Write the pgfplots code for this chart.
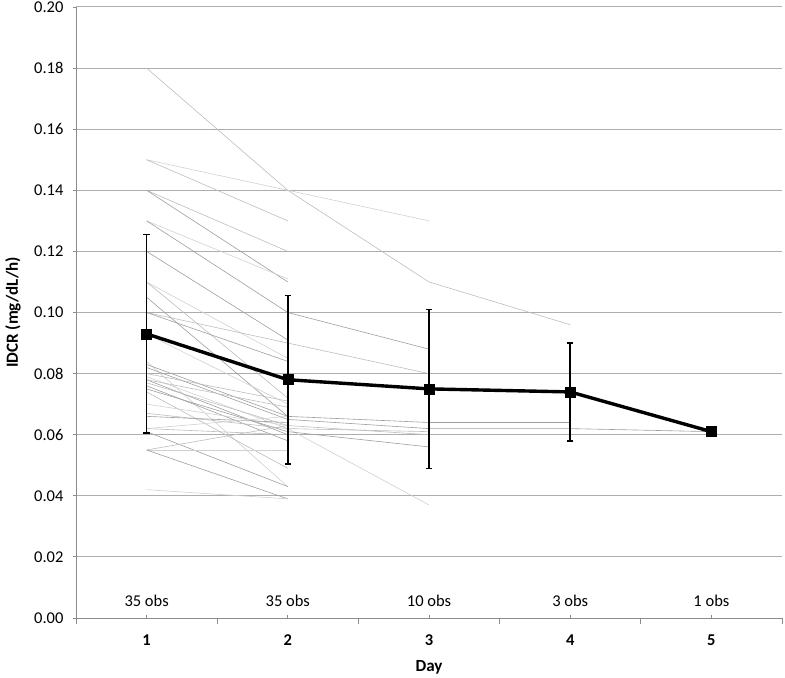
\documentclass[border=0pt]{standalone}
\usepackage{pgfplots}
\pgfplotsset{compat=1.18}
\usepackage{fontspec}
\setmainfont{Carlito}
\begin{document}
\begin{tikzpicture}
\pgfplotsset{
  spA/.style={line width=0.6bp, color=black!38, mark=none, forget plot},
  spB/.style={line width=0.6bp, color=black!26, mark=none, forget plot},
  spC/.style={line width=0.6bp, color=black!18, mark=none, forget plot},
}
\begin{axis}[
  scale only axis,
  width=706bp, height=611bp,
  xmin=0.5, xmax=5.5, ymin=0, ymax=0.2,
  axis x line=bottom, axis y line=left,
  axis line style={-, draw=black!45, line width=0.9bp},
  xtick={1,2,3,4,5},
  xticklabels={\textbf{1},\textbf{2},\textbf{3},\textbf{4},\textbf{5}},
  xtick align=inside,
  major tick length=3bp,
  extra x ticks={0.5,1.5,2.5,3.5,4.5,5.5},
  extra x tick labels={},
  extra x tick style={xtick align=outside, major tick length=6bp, grid=none},
  ytick={0,0.02,...,0.2},
  ytick align=outside,
  /pgf/number format/assume math mode=true,
  yticklabel style={/pgf/number format/fixed, /pgf/number format/fixed zerofill, /pgf/number format/precision=2},
  every tick/.style={draw=black!45, line width=0.9bp},
  ymajorgrids,
  grid style={draw=black!32, line width=1bp},
  tick label style={font=\fontsize{16.5bp}{18bp}\selectfont},
  xticklabel style={anchor=center, yshift=-22bp},
  yticklabel style={xshift=-6bp},
  xlabel={\textbf{Day}},
  ylabel={\textbf{IDCR (mg/dL/h)}},
  every axis x label/.style={at={(axis description cs:0.5,-0.0802)}, anchor=center, font=\fontsize{17bp}{19bp}\selectfont},
  every axis y label/.style={at={(axis description cs:-0.0892,0.5)}, rotate=90, anchor=center, font=\fontsize{17bp}{19bp}\selectfont},
  clip=false,
]
% individual patients
\addplot[spB] coordinates {(1,0.180)(2,0.140)(3,0.110)(4,0.096)};
\addplot[spC] coordinates {(1,0.150)(2,0.140)(3,0.130)};
\addplot[spB] coordinates {(1,0.150)(2,0.130)};
\addplot[spB] coordinates {(1,0.140)(2,0.120)};
\addplot[spA] coordinates {(1,0.140)(2,0.110)};
\addplot[spC] coordinates {(1,0.130)(2,0.111)};
\addplot[spA] coordinates {(1,0.130)(2,0.100)(3,0.088)};
\addplot[spA] coordinates {(1,0.120)(2,0.091)};
\addplot[spB] coordinates {(1,0.110)(2,0.072)};
\addplot[spC] coordinates {(1,0.110)(2,0.085)};
\addplot[spB] coordinates {(1,0.100)(2,0.090)(3,0.080)};
\addplot[spA] coordinates {(1,0.100)(2,0.084)};
\addplot[spA] coordinates {(1,0.105)(2,0.066)(3,0.064)(4,0.064)};
\addplot[spC] coordinates {(1,0.093)(2,0.070)};
\addplot[spC] coordinates {(1,0.084)(2,0.043)};
\addplot[spA] coordinates {(1,0.083)(2,0.066)};
\addplot[spA] coordinates {(1,0.082)(2,0.065)(3,0.062)(4,0.062)(5,0.061)};
\addplot[spB] coordinates {(1,0.080)(2,0.071)};
\addplot[spC] coordinates {(1,0.079)(2,0.062)(3,0.037)};
\addplot[spA] coordinates {(1,0.078)(2,0.060)};
\addplot[spB] coordinates {(1,0.078)(2,0.069)};
\addplot[spB] coordinates {(1,0.077)(2,0.063)(3,0.060)};
\addplot[spA] coordinates {(1,0.076)(2,0.058)};
\addplot[spA] coordinates {(1,0.075)(2,0.061)(3,0.056)};
\addplot[spB] coordinates {(1,0.074)(2,0.049)};
\addplot[spC] coordinates {(1,0.070)(2,0.063)};
\addplot[spB] coordinates {(1,0.067)(2,0.062)(3,0.061)};
\addplot[spA] coordinates {(1,0.066)(2,0.064)};
\addplot[spC] coordinates {(1,0.062)(2,0.066)};
\addplot[spB] coordinates {(1,0.062)(2,0.060)};
\addplot[spA] coordinates {(1,0.061)(2,0.043)};
\addplot[spB] coordinates {(1,0.055)(2,0.063)};
\addplot[spC] coordinates {(1,0.055)(2,0.055)};
\addplot[spA] coordinates {(1,0.055)(2,0.039)};
\addplot[spC] coordinates {(1,0.042)(2,0.039)};
% mean with SD
\addplot[black, line width=3.4bp, mark=square*, mark size=5bp,
  mark options={solid, line width=0.5bp, fill=black},
  error bars/.cd, y dir=both, y explicit,
  error bar style={line width=1.6bp, black},
  error mark options={rotate=90, mark size=3.2bp, line width=1.6bp, black}]
  coordinates {
  (1,0.093) +- (0,0.0325)
  (2,0.078) +- (0,0.0275)
  (3,0.075) +- (0,0.026)
  (4,0.074) +- (0,0.016)
  (5,0.061) +- (0,0)
  };
% observation counts
\addplot[only marks, mark=*, mark size=0.01bp, mark options={draw opacity=0, fill opacity=0},
  nodes near coords, point meta=explicit symbolic,
  nodes near coords style={anchor=center, font=\fontsize{16.5bp}{18bp}\selectfont, text opacity=1, black}]
  coordinates {
  (1,0.0057) [35 obs]
  (2,0.0057) [35 obs]
  (3,0.0057) [10 obs]
  (4,0.0057) [3 obs]
  (5,0.0057) [1 obs]
  };
\end{axis}
\pgfresetboundingbox
\path ([shift={(-76bp,-59bp)}]current axis.south west) rectangle ([shift={(3bp,7bp)}]current axis.north east);
\end{tikzpicture}
\end{document}
